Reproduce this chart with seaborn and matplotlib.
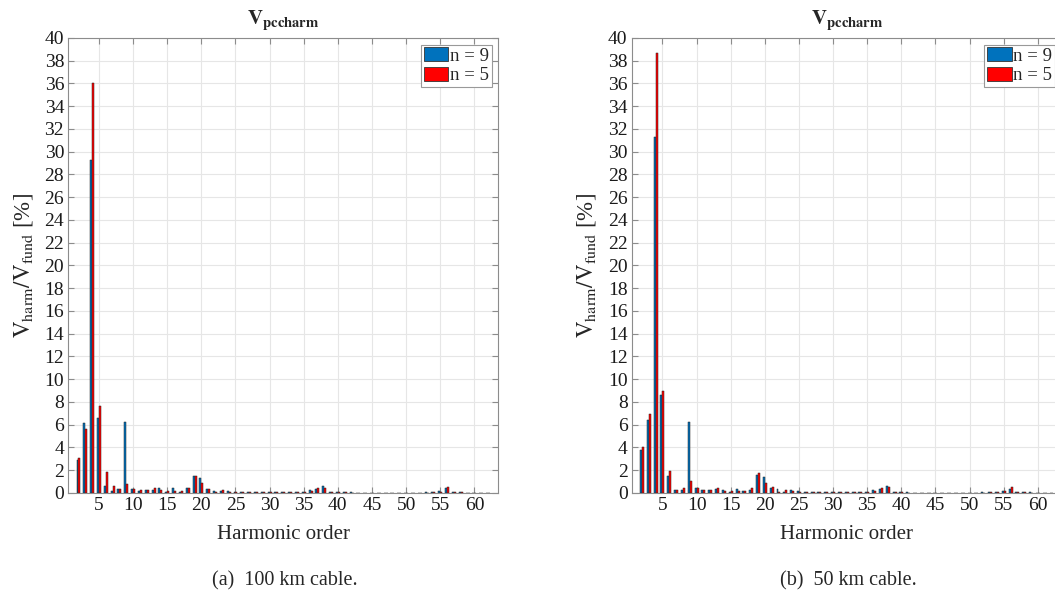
import numpy as np
import pandas as pd
import matplotlib
matplotlib.use("Agg")
import matplotlib.pyplot as plt
import seaborn as sns
from matplotlib.patches import Patch

# ---------------- data ----------------
harmonics = list(range(2, 63))

left_n9 = [2.93, 6.12, 29.3, 6.59, 0.64, 0.20, 0.38, 6.20, 0.38, 0.15,
           0.24, 0.29, 0.41, 0.10, 0.41, 0.06, 0.47, 1.50, 1.29, 0.32,
           0.18, 0.15, 0.15, 0.12, 0.10, 0.08, 0.06, 0.06, 0.05, 0.06,
           0.05, 0.08, 0.10, 0.12, 0.26, 0.38, 0.62, 0.10, 0.10, 0.06,
           0.05, 0.04, 0.04, 0.03, 0.03, 0.03, 0.03, 0.03, 0.04, 0.04,
           0.04, 0.05, 0.06, 0.15, 0.47, 0.10, 0.05, 0.04, 0.03, 0.03,
           0.03]
left_n5 = [3.07, 5.62, 36.0, 7.65, 1.81, 0.58, 0.32, 0.82, 0.38, 0.26,
           0.24, 0.41, 0.29, 0.18, 0.20, 0.18, 0.41, 1.50, 0.85, 0.38,
           0.10, 0.23, 0.10, 0.10, 0.10, 0.05, 0.06, 0.05, 0.05, 0.05,
           0.06, 0.06, 0.08, 0.10, 0.15, 0.41, 0.47, 0.10, 0.08, 0.05,
           0.04, 0.04, 0.03, 0.03, 0.03, 0.03, 0.03, 0.03, 0.03, 0.04,
           0.04, 0.04, 0.05, 0.10, 0.53, 0.10, 0.05, 0.03, 0.03, 0.03,
           0.03]
right_n9 = [3.78, 6.42, 31.3, 8.62, 1.52, 0.26, 0.26, 6.28, 0.47, 0.26,
            0.29, 0.38, 0.26, 0.12, 0.35, 0.20, 0.23, 1.61, 1.44, 0.44,
            0.38, 0.12, 0.23, 0.15, 0.12, 0.08, 0.06, 0.06, 0.05, 0.06,
            0.06, 0.08, 0.10, 0.12, 0.26, 0.35, 0.65, 0.10, 0.06, 0.05,
            0.04, 0.03, 0.03, 0.03, 0.03, 0.03, 0.03, 0.03, 0.04, 0.04,
            0.05, 0.06, 0.08, 0.20, 0.38, 0.12, 0.08, 0.05, 0.04, 0.03,
            0.03]
right_n5 = [4.08, 6.95, 38.7, 9.00, 1.96, 0.26, 0.47, 1.09, 0.44, 0.26,
            0.23, 0.47, 0.15, 0.20, 0.15, 0.20, 0.41, 1.79, 0.85, 0.56,
            0.12, 0.23, 0.15, 0.12, 0.10, 0.08, 0.06, 0.05, 0.05, 0.05,
            0.06, 0.06, 0.08, 0.10, 0.18, 0.47, 0.50, 0.10, 0.05, 0.04,
            0.03, 0.03, 0.03, 0.03, 0.03, 0.03, 0.03, 0.03, 0.03, 0.04,
            0.04, 0.05, 0.06, 0.15, 0.50, 0.10, 0.06, 0.04, 0.03, 0.03,
            0.03]

series_labels = ["n = 9", "n = 5"]
series_colors = ["#0072BD", "#FF0000"]
panel_title = r"$\mathbf{V_{pccharm}}$"
x_label = "Harmonic order"
y_label = r"$\mathrm{V_{harm}/V_{fund}}$ [%]"
captions = ["(a)  100 km cable.", "(b)  50 km cable."]
x_ticks = list(range(5, 61, 5))
y_ticks = list(range(0, 41, 2))

# ---------------- style ----------------
sns.set_style("ticks")
plt.rcParams["font.family"] = ["Liberation Serif", "DejaVu Serif"]
plt.rcParams["mathtext.fontset"] = "stix"

fig = plt.figure(figsize=(10.55, 5.98), dpi=100)
ax1 = fig.add_axes([0.0647, 0.1756, 0.4076, 0.7609])
ax2 = fig.add_axes([0.5988, 0.1756, 0.4076, 0.7609])

spine_col = "#8c8c8c"


def draw(ax, n9, n5, caption, cx):
    df = pd.DataFrame({
        "h": harmonics + harmonics,
        "v": n9 + n5,
        "n": [series_labels[0]] * len(harmonics) + [series_labels[1]] * len(harmonics),
    })
    sns.barplot(data=df, x="h", y="v", hue="n", hue_order=series_labels,
                palette=series_colors, native_scale=True, width=0.58,
                edgecolor="#222222", linewidth=0.35, errorbar=None,
                saturation=1, legend=False, ax=ax)
    ax.set_xlim(0.5, 63.5)
    ax.set_ylim(0, 40)
    ax.set_xticks(x_ticks)
    ax.set_yticks(y_ticks)
    ax.grid(True, color="#e6e6e6", linewidth=0.8)
    ax.set_axisbelow(True)
    ax.tick_params(direction="in", top=True, right=True, length=4,
                   labelsize=14, color=spine_col, labelcolor="#1a1a1a", pad=3)
    for s in ax.spines.values():
        s.set_visible(True)
        s.set_color(spine_col)
        s.set_linewidth(0.8)
    ax.set_xlabel(x_label, fontsize=15, labelpad=8)
    ax.set_ylabel(y_label, fontsize=16.5, labelpad=7)
    ax.set_title(panel_title, fontsize=15, pad=9)
    handles = [Patch(facecolor=c, edgecolor="#333333", linewidth=0.6) for c in series_colors]
    leg = ax.legend(handles=handles, labels=series_labels, loc="upper right",
                    fontsize=13.5, frameon=True, fancybox=False, framealpha=1,
                    edgecolor="#999999", borderpad=0.15, handlelength=1.3,
                    handleheight=0.75, handletextpad=0.1, labelspacing=0.12,
                    borderaxespad=0.35)
    leg.get_frame().set_linewidth(0.8)
    fig.text(cx, 0.028, caption, ha="center", va="center", fontsize=14.5)


draw(ax1, left_n9, left_n5, captions[0], 0.270)
draw(ax2, right_n9, right_n5, captions[1], 0.804)

fig.savefig("out.png", dpi=100)
